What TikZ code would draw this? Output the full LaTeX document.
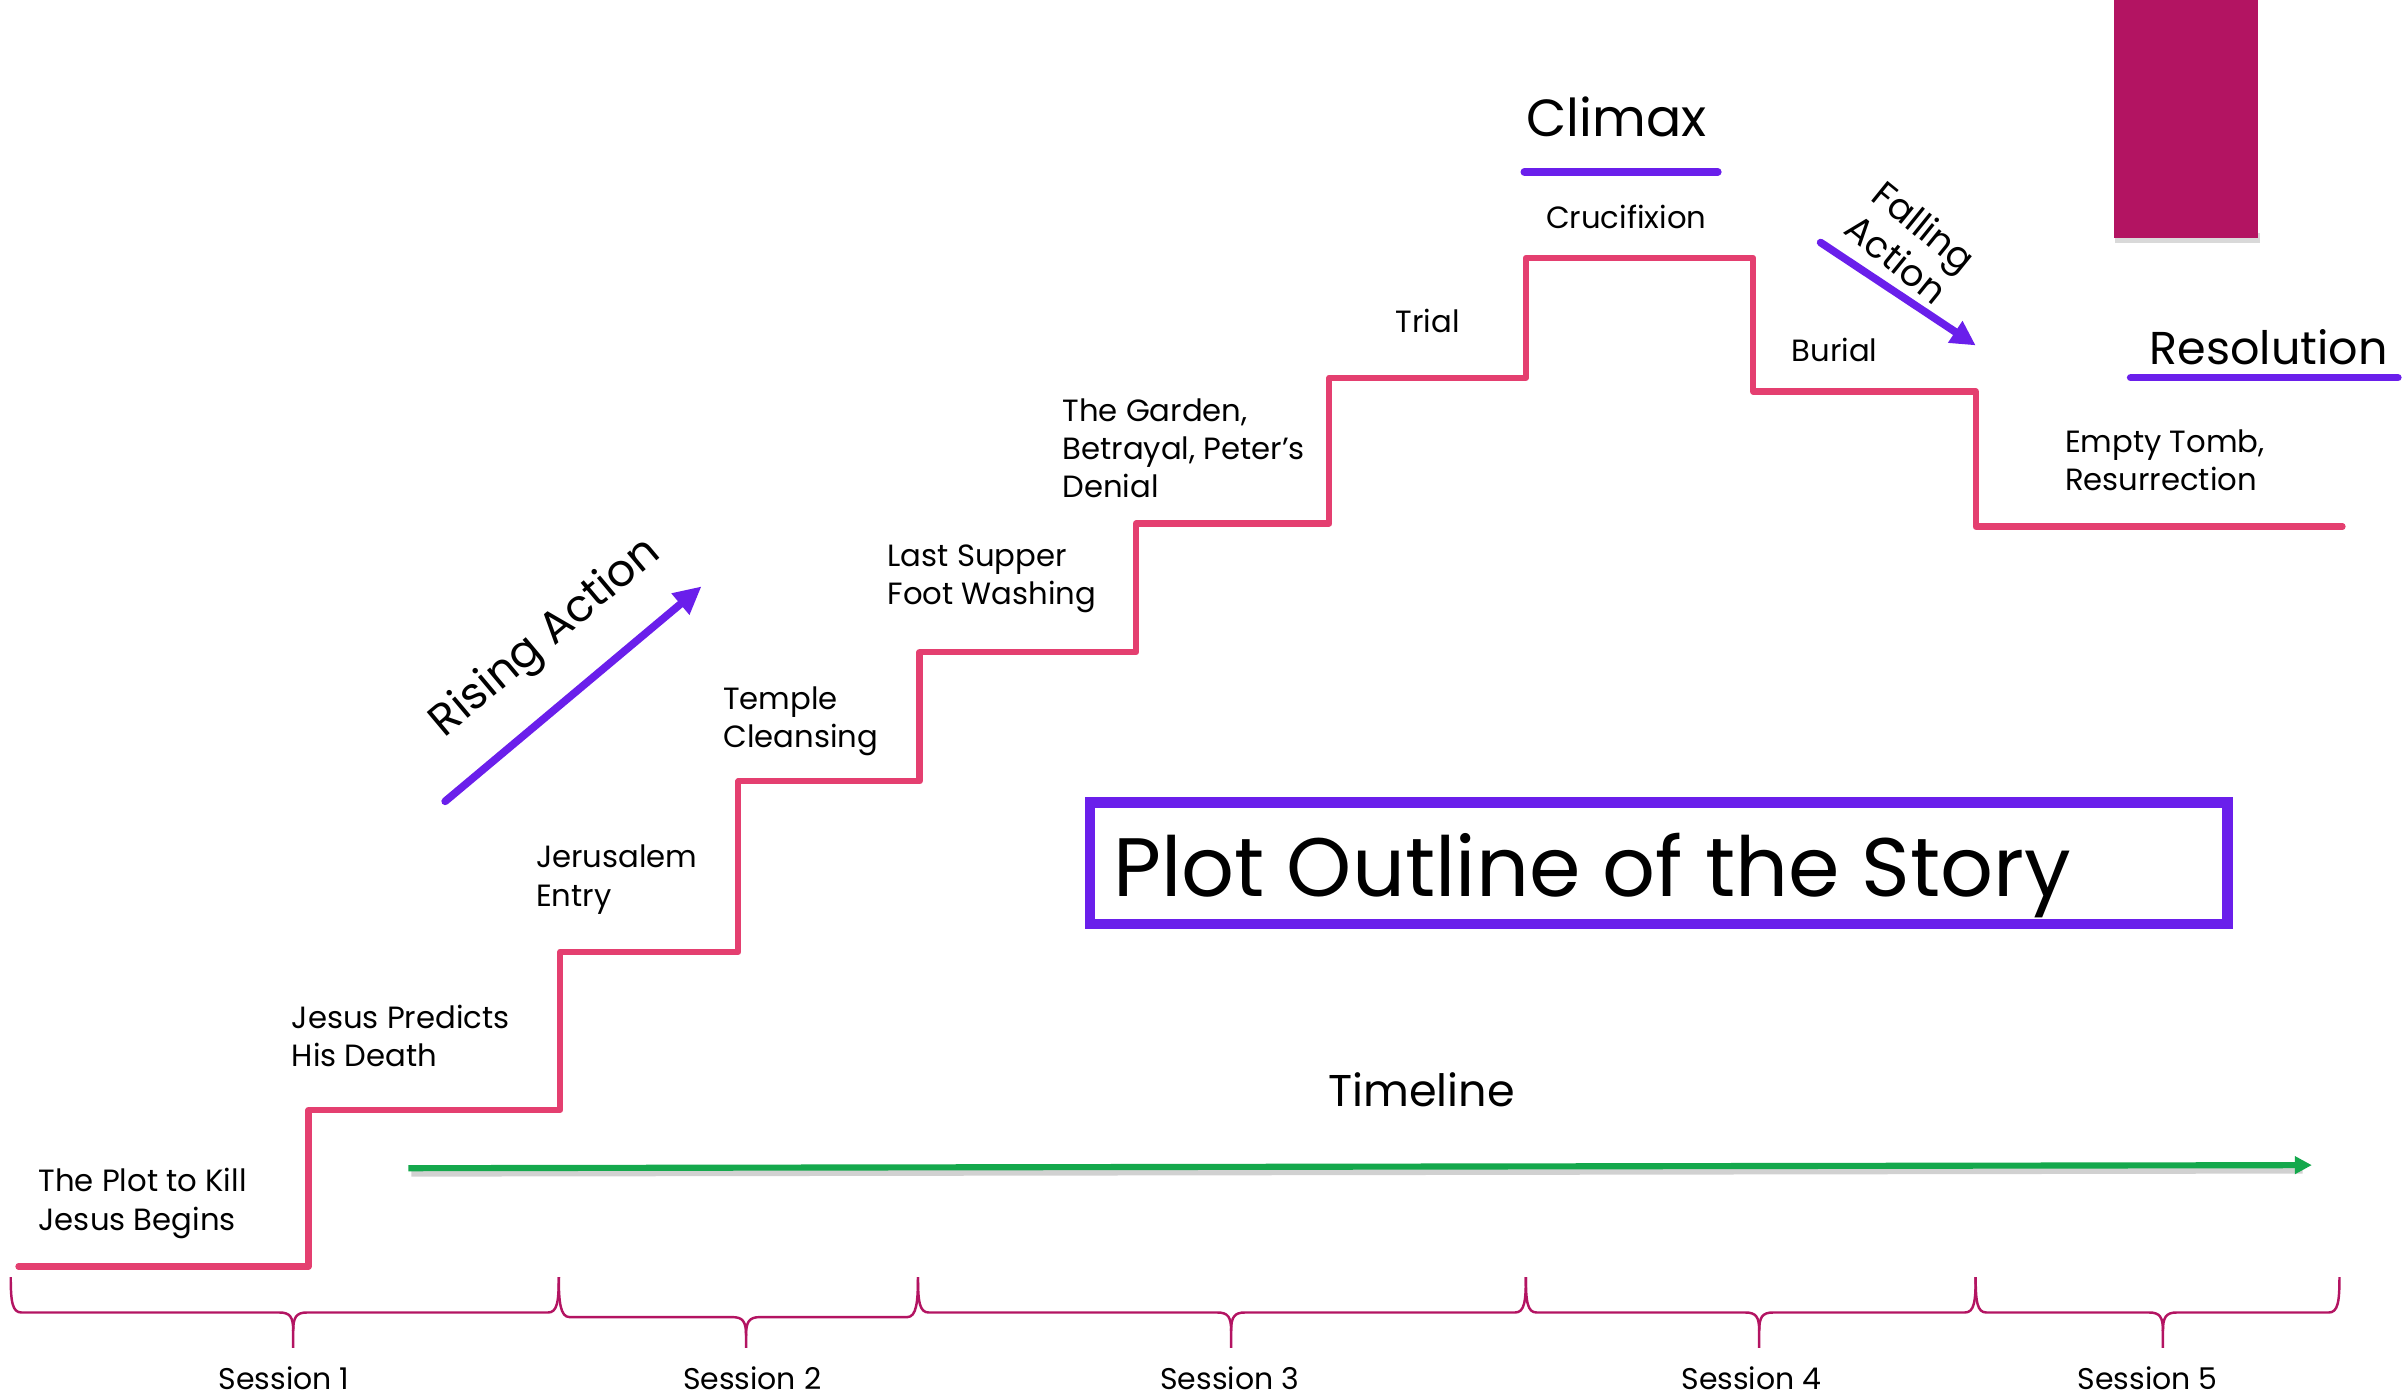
\documentclass[tikz,border=0pt]{standalone}
\usepackage{fontspec}
\setmainfont{Poppins}
\usetikzlibrary{arrows.meta}
\definecolor{stair}{HTML}{E43F70}
\definecolor{violet}{HTML}{6A1FEB}
\definecolor{magen}{HTML}{B31462}
\definecolor{tgreen}{HTML}{14A84C}
\begin{document}
\begin{tikzpicture}[x=1pt,y=-1pt,
  lbl/.style={font=\fontsize{20}{25}\selectfont, align=left, anchor=west, inner sep=0pt},
  sess/.style={font=\fontsize{19.5}{22}\selectfont, inner sep=0pt, anchor=base},
  big/.style={inner sep=0pt},
  bracestyle/.style={draw=magen, line width=1.6pt},
  stairline/.style={draw=stair, line width=4pt, line join=round, line cap=round},
  varrow/.style={draw=violet, line width=5pt, line cap=round, -{Triangle[length=18pt,width=17pt]}},
  uline/.style={draw=violet, line width=5pt, line cap=round}]
\useasboundingbox (0,0) rectangle (1568,909);

% magenta block
\fill[black!25, opacity=0.6] (1378,152) rectangle (1472,158);
\fill[magen] (1377,0) rectangle (1471,155);

% staircase
\draw[stairline] (12,825) -- (201,825) -- (201,723) -- (365,723) -- (365,620) -- (481,620)
  -- (481,509) -- (599,509) -- (599,425) -- (740,425) -- (740,341) -- (866,341)
  -- (866,246) -- (994,246) -- (994,168) -- (1142,168) -- (1142,255) -- (1287,255)
  -- (1287,343) -- (1526,343);

% stage labels
\node[lbl] (l1) at (25,784) {The Plot to Kill\\Jesus Begins};
\node[lbl] (l2) at (190,675) {Jesus Predicts\\His Death};
\node[lbl] (l3) at (349,573) {Jerusalem\\Entry};
\node[lbl] (l4) at (471,470) {Temple\\Cleansing};
\node[lbl] (l5) at (578,377) {Last Supper\\Foot Washing};
\node[lbl] (l6) at (692,292) {The Garden,\\Betrayal, Peter’s\\Denial};
\node[lbl] (l7) at (909,209) {Trial};
\node[lbl] (l8) at (1007,141) {Crucifixion};
\node[lbl] (l9) at (1167,228) {Burial};
\node[lbl] (l10) at (1345,300) {Empty Tomb,\\Resurrection};

% climax / resolution
\node[big, font=\fontsize{34}{40}\selectfont] (climax) at (1053,76) {Climax};
\coordinate (cl1) at (993,112); \coordinate (cl2) at (1119,112);
\draw[uline] (cl1) -- (cl2);
\node[big, font=\fontsize{30}{36}\selectfont] (resol) at (1478,226) {Resolution};
\coordinate (rs1) at (1388,246); \coordinate (rs2) at (1562,246);
\draw[uline] (rs1) -- (rs2);

% rising action
\coordinate (ra1) at (290,522); \coordinate (ra2) at (457,382);
\draw[varrow] (ra1) -- (ra2);
\node[big, font=\fontsize{29}{34}\selectfont, rotate=40] (rising) at (356,416) {Rising Action};

% falling action
\coordinate (fa1) at (1186,158); \coordinate (fa2) at (1287,225);
\draw[varrow, -{Triangle[length=16pt,width=16pt]}] (fa1) -- (fa2);
\node[big, font=\fontsize{24}{28}\selectfont, rotate=-39, align=left] (falling) at (1245,158) {Falling\\Action};

% title box
\node[draw=violet, line width=7pt, minimum width=741pt, minimum height=79pt, inner sep=0pt] (box) at (1080.5,562.5) {};
\node[big, font=\fontsize{54}{60}\selectfont, anchor=base west] (title) at (725,584) {Plot Outline of the Story};

% timeline
\node[big, font=\fontsize{29}{34}\selectfont] (tl) at (926,710) {Timeline};
\coordinate (g1) at (266,761); \coordinate (g2) at (1506,759);
\draw[black!30, line width=4pt, opacity=0.6] (268,764.5) -- (1500,762.5);
\draw[tgreen, line width=4pt, -{Triangle[length=11pt,width=11pt]}] (g1) -- (g2);

% braces
\foreach \xa/\xm/\xb/\h in {7/191/364/855, 364/486/598/858, 598/802/994/855, 994/1146/1287/855, 1287/1409/1524/855}{
  \draw[bracestyle] (\xa,832) .. controls (\xa,848) and (\xa+1,\h) .. (\xa+7,\h)
    -- (\xm-9,\h) .. controls (\xm-2,\h) and (\xm,\h+3) .. (\xm,\h+12) -- (\xm,878);
  \draw[bracestyle] (\xm,\h+12) .. controls (\xm,\h+3) and (\xm+2,\h) .. (\xm+9,\h)
    -- (\xb-7,\h) .. controls (\xb-1,\h) and (\xb,848) .. (\xb,832);
}
\node[sess] (s1) at (185,905) {Session 1};
\node[sess] (s2) at (490,905) {Session 2};
\node[sess] (s3) at (801,905) {Session 3};
\node[sess] (s4) at (1141,905) {Session 4};
\node[sess] (s5) at (1399,905) {Session 5};
\end{tikzpicture}
\end{document}
